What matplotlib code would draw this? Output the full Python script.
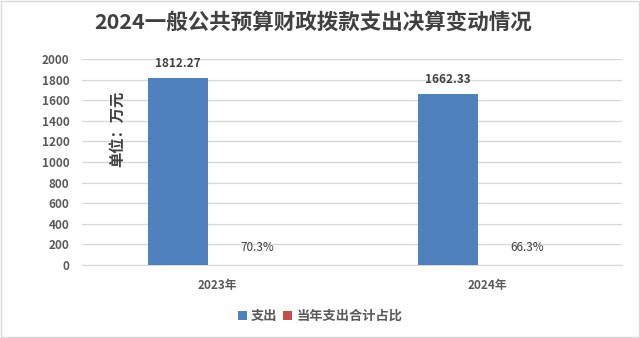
import matplotlib.pyplot as plt
import numpy as np
from matplotlib.patches import Rectangle

plt.rcParams['font.family'] = ['Noto Sans CJK SC', 'DejaVu Sans']

# 数据
categories = ["2023年", "2024年"]
spending = [1812.27, 1662.33]
share = [0.703, 0.663]
share_labels = ["70.3%", "66.3%"]
yticks = list(range(0, 2001, 200))

blue = "#4F81BD"
red = "#C0504D"
text_gray = "#595959"

fig = plt.figure(figsize=(6.4, 3.38), dpi=100)
ax = fig.add_axes([0.128, 0.216, 0.844, 0.609])

x = np.arange(len(categories))
w = 0.222
b1 = ax.bar(x - 0.144, spending, w, color=blue, label="支出", zorder=3)
b2 = ax.bar(x + 0.078, share, w, color=red, label="当年支出合计占比", zorder=3)

for rect, v in zip(b1, spending):
    ax.annotate(f"{v:.2f}", (rect.get_x() + rect.get_width() / 2, rect.get_height()),
                xytext=(0, 6), textcoords="offset points", ha="center", va="bottom",
                fontsize=8.5, fontweight="bold", color="#404040")
for xi, h, s in zip(x, share, share_labels):
    ax.annotate(s, (xi + 0.15, h),
                xytext=(0, 8), textcoords="offset points", ha="center", va="bottom",
                fontsize=8.5, color="#404040")

ax.set_xlim(-0.5, 1.5)
ax.set_ylim(0, 2000)
ax.set_yticks(yticks)
ax.set_xticks(x)
ax.set_xticklabels(categories)
ax.tick_params(axis="both", length=0, labelsize=8.5, colors=text_gray)
ax.tick_params(axis="x", pad=10)
ax.tick_params(axis="y", pad=9)
for lbl in ax.get_yticklabels() + ax.get_xticklabels():
    lbl.set_fontweight("bold")
ax.grid(axis="y", color="#D9D9D9", linewidth=1, zorder=0)
for side in ["top", "right", "left"]:
    ax.spines[side].set_visible(False)
ax.spines["bottom"].set_color("#D9D9D9")

fig.text(0.183, 0.62, "单位：万元", rotation=90, ha="center", va="center",
         fontsize=11, fontweight="bold", color="#404040")

fig.text(0.49, 0.935, "2024一般公共预算财政拨款支出决算变动情况", ha="center", va="center",
         fontsize=15.5, fontweight="bold", color="#404040")

fig.legend(loc="center", bbox_to_anchor=(0.5, 0.065), ncol=2, frameon=False,
           handlelength=0.7, handleheight=0.7, handletextpad=0.3,
           columnspacing=0.4, labelcolor=text_gray,
           prop={"weight": "bold", "size": 9.5})

fig.patches.append(Rectangle((0.002, 0.003), 0.996, 0.994, transform=fig.transFigure,
                             fill=False, edgecolor="#D9D9D9", linewidth=1))

plt.savefig("out.png", dpi=100)
plt.close()
